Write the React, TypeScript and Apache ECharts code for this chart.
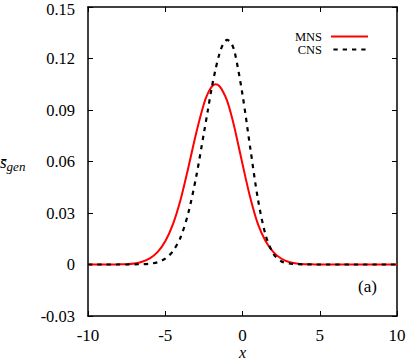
import React, { useEffect, useRef } from "react";
import * as echarts from "echarts";

const xs = [
  -10, -9.5, -9, -8.5, -8, -7.5, -7, -6.5, -6, -5.5, -5, -4.5, -4, -3.5, -3, -2.5, -2.25, -2, -1.75, -1.5,
  -1.25, -1, -0.75, -0.5, 0, 0.5, 1, 1.5, 2, 2.5, 3, 3.5, 4, 4.5, 5, 5.5, 6, 6.5, 7, 7.5, 8, 8.5, 9, 9.5, 10,
];
const mns = [
  0, 0, 0, 0, 0.0001, 0.0002, 0.0006, 0.0016, 0.0036, 0.0072, 0.0135, 0.0235, 0.038, 0.0567, 0.0765, 0.0935,
  0.0995, 0.1035, 0.105, 0.104, 0.1005, 0.0955, 0.088, 0.079, 0.0585, 0.039, 0.0235, 0.0135, 0.0072, 0.0035,
  0.0015, 0.0006, 0.0002, 0.0001, 0, 0, 0, 0, 0, 0, 0, 0, 0, 0, 0,
];
const cns = [
  0, 0, 0, 0, 0, 0, 0.0001, 0.0002, 0.0005, 0.0013, 0.0034, 0.0078, 0.016, 0.0303, 0.051, 0.0765, 0.0895,
  0.1025, 0.1135, 0.1225, 0.1285, 0.1308, 0.1294, 0.1235, 0.099, 0.068, 0.038, 0.017, 0.0062, 0.0019, 0.0006,
  0.0002, 0.0001, 0, 0, 0, 0, 0, 0, 0, 0, 0, 0, 0, 0,
];
const seriesNames = ["MNS", "CNS"];
const yTicks = [-0.03, 0, 0.03, 0.06, 0.09, 0.12, 0.15];
const yTickLabels = ["-0.03", "0", "0.03", "0.06", "0.09", "0.12", "0.15"];
const xTickLabels = ["-10", "-5", "0", "5", "10"];
const xTicks = [-10, -5, 0, 5, 10];
const xAxisTitle = "x";
const panelLabel = "(a)";

const FONT = "Liberation Serif";

export default function App() {
  const ref = useRef<HTMLDivElement>(null);
  useEffect(() => {
    if (!ref.current) return;
    const chart = echarts.init(ref.current, null, { renderer: "svg" });
    const yFmt = (v: number) => {
      const i = yTicks.findIndex((t) => Math.abs(t - v) < 1e-9);
      if (i < 0) return "";
      return i === yTicks.length - 1 ? `{top|${yTickLabels[i]}}` : yTickLabels[i];
    };
    const xFmt = (v: number) => {
      const i = xTicks.findIndex((t) => Math.abs(t - v) < 1e-9);
      return i >= 0 ? xTickLabels[i] : "";
    };
    const axisLine = { show: true, onZero: false, lineStyle: { color: "#000", width: 1.5 } };
    const tick = { show: true, inside: true, length: 5, lineStyle: { color: "#000", width: 1 } };
    const dashIcon = "path://M0,0h4.3v2h-4.3zM9.3,0h4.3v2h-4.3zM18.6,0h4.3v2h-4.3zM27.9,0h4.3v2h-4.3z";
    chart.setOption({
      animation: false,
      backgroundColor: "#fff",
      grid: { left: 88, right: 12, top: 7, bottom: 44, containLabel: false, outerBoundsMode: "none" },
      legend: {
        orient: "vertical",
        right: 36,
        top: 25,
        align: "right",
        itemWidth: 37,
        itemHeight: 2,
        itemGap: 0,
        textStyle: { fontFamily: FONT, fontSize: 12.5, lineHeight: 12.3, color: "#000", padding: [0, 4, 0, 0] },
        data: [
          { name: seriesNames[0], icon: "rect" },
          { name: seriesNames[1], icon: dashIcon },
        ],
      },
      xAxis: [
        {
          type: "value",
          min: -10,
          max: 10,
          interval: 5,
          position: "bottom",
          axisLine,
          axisTick: tick,
          splitLine: { show: false },
          axisLabel: { color: "#000", fontFamily: FONT, fontSize: 17, lineHeight: 14, margin: 12, formatter: xFmt },
        },
        {
          type: "value",
          min: -10,
          max: 10,
          interval: 5,
          position: "top",
          axisLine,
          axisTick: tick,
          splitLine: { show: false },
          axisLabel: { show: false },
        },
      ],
      yAxis: [
        {
          type: "value",
          min: -0.03,
          max: 0.15,
          interval: 0.03,
          position: "left",
          axisLine,
          axisTick: tick,
          splitLine: { show: false },
          axisLabel: {
            color: "#000",
            fontFamily: FONT,
            fontSize: 16.5,
            lineHeight: 14,
            margin: 13,
            formatter: yFmt,
            rich: {
              top: { fontFamily: FONT, fontSize: 16.5, lineHeight: 14, color: "#000", padding: [5, 0, 0, 0] },
            },
          },
        },
        {
          type: "value",
          min: -0.03,
          max: 0.15,
          interval: 0.03,
          position: "right",
          axisLine,
          axisTick: tick,
          splitLine: { show: false },
          axisLabel: { show: false },
        },
      ],
      graphic: [
        {
          type: "text",
          left: 0,
          top: 154,
          style: {
            text: "{s|s\u0304}{g|gen}",
            rich: {
              s: { fontFamily: FONT, fontSize: 17, fontStyle: "italic", fill: "#000" },
              g: { fontFamily: FONT, fontSize: 13, fontStyle: "italic", fill: "#000", padding: [8, 0, 0, 0] },
            },
          },
        },
        {
          type: "text",
          x: 242.5,
          y: 352,
          style: {
            text: xAxisTitle,
            fontFamily: FONT,
            fontSize: 16,
            fontStyle: "italic",
            fill: "#000",
            align: "center",
            verticalAlign: "middle",
          },
        },
        {
          type: "text",
          left: 358,
          top: 278,
          style: { text: panelLabel, fontFamily: FONT, fontSize: 17, fill: "#000" },
        },
      ],
      series: [
        {
          name: seriesNames[0],
          type: "line",
          data: xs.map((x, i) => [x, mns[i]]),
          smooth: 0.3,
          symbol: "none",
          lineStyle: { color: "#ff0000", width: 2 },
          itemStyle: { color: "#ff0000" },
          z: 3,
        },
        {
          name: seriesNames[1],
          type: "line",
          data: xs.map((x, i) => [x, cns[i]]),
          smooth: 0.3,
          symbol: "none",
          lineStyle: { color: "#000", width: 2.2, type: [4.3, 5] },
          itemStyle: { color: "#000" },
          z: 4,
        },
      ],
    });
    return () => chart.dispose();
  }, []);
  return <div ref={ref} style={{ position: "absolute", left: 0, top: 0, width: 409, height: 360 }} />;
}
